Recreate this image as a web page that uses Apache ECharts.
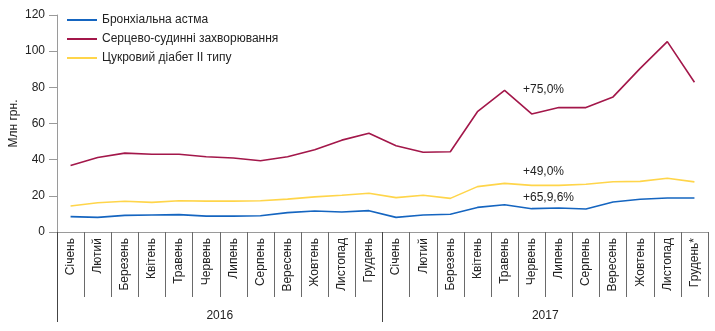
<!DOCTYPE html>
<html>
<head>
<meta charset="utf-8">
<script src="https://cdn.jsdelivr.net/npm/echarts@6/dist/echarts.min.js"></script>
<style>
  html, body { margin: 0; padding: 0; background: #fff; }
  #chart { width: 715px; height: 331px; }
</style>
</head>
<body>
<div id="chart"></div>
<script>
// Monthly sales volumes, mln UAH, 2016–2017
const months = ['Січень', 'Лютий', 'Березень', 'Квітень', 'Травень', 'Червень',
  'Липень', 'Серпень', 'Вересень', 'Жовтень', 'Листопад', 'Грудень'];
const months2017 = months.slice(0, 11).concat(['Грудень*']);
const years = ['2016', '2017'];
const categories = months.concat(months2017);

const seriesNames = ['Бронхіальна астма', 'Серцево-судинні захворювання', 'Цукровий діабет II типу'];

const asthma = [8.5, 8.1, 9.2, 9.4, 9.6, 8.8, 8.8, 9.0, 10.7, 11.6, 11.1, 11.8,
  8.1, 9.4, 9.8, 13.6, 15.1, 12.9, 13.3, 12.7, 16.6, 18.1, 18.8, 18.8];
const cardio = [36.8, 41.2, 43.6, 43.0, 43.0, 41.6, 40.9, 39.4, 41.6, 45.5, 50.8, 54.6,
  47.7, 44.1, 44.4, 66.5, 78.3, 65.3, 68.8, 68.8, 74.7, 90.5, 105.3, 82.8];
const diabetes = [14.4, 16.2, 17.0, 16.4, 17.3, 17.1, 17.1, 17.3, 18.2, 19.4, 20.3, 21.4,
  19.0, 20.3, 18.6, 25.1, 26.9, 25.8, 25.8, 26.4, 27.8, 28.0, 29.7, 27.7];

const yTicks = { min: 0, max: 120, step: 20 };
const changeNotes = ['+75,0%', '+49,0%', '+65,9,6%'];

// Boundary slots for the year row: one slot per month edge (24 months -> 25 edges)
const yearSlots = [];
for (let i = 0; i <= categories.length; i++) {
  const yi = Math.floor(i / 12);
  yearSlots.push(i % 12 === 6 && yi < years.length ? years[yi] : '');
}

const colors = ['#1565c0', '#a3174a', '#ffd54a'];
const textFont = 'Liberation Sans, Arial, sans-serif';
const axisGrey = '#9a9a9a';

const chart = echarts.init(document.getElementById('chart'), null, { renderer: 'canvas' });

chart.setOption({
  animation: false,
  textStyle: { fontFamily: textFont },
  color: colors,
  grid: { left: 57, right: 7, top: 15, bottom: 99, containLabel: false, outerBoundsMode: 'none' },
  legend: {
    orient: 'vertical',
    left: 62,
    top: 9,
    icon: 'rect',
    itemWidth: 30,
    itemHeight: 2,
    itemGap: 7,
    textStyle: { fontSize: 12, color: '#222', fontFamily: textFont },
    data: seriesNames
  },
  xAxis: [
    {
      type: 'category',
      data: categories,
      boundaryGap: true,
      axisLine: { show: true, lineStyle: { color: axisGrey, width: 1 } },
      axisTick: { show: true, interval: 0, length: 65, lineStyle: { color: '#6a6a6a', width: 1 } },
      axisLabel: {
        interval: 0,
        rotate: 90,
        margin: 6,
        fontSize: 12,
        color: '#222',
        fontFamily: textFont
      }
    },
    {
      // year row: separators at the first month of each year, year label centred
      type: 'category',
      data: yearSlots,
      boundaryGap: false,
      position: 'bottom',
      axisLine: { show: false },
      axisTick: {
        show: true,
        length: 90,
        interval: function (i) { return i === 0 || i === 12; },
        lineStyle: { color: '#444', width: 1 }
      },
      axisLabel: {
        interval: function (i, v) { return v !== ''; },
        margin: 78,
        fontSize: 12,
        color: '#222',
        fontFamily: textFont
      }
    }
  ],
  yAxis: {
    type: 'value',
    min: yTicks.min,
    max: yTicks.max,
    interval: yTicks.step,
    name: 'Млн грн.',
    nameLocation: 'middle',
    nameGap: 37,
    nameRotate: 90,
    nameMoveOverlap: false,
    nameTextStyle: { fontSize: 12, color: '#222', fontFamily: textFont },
    axisLine: { show: true, lineStyle: { color: axisGrey, width: 1 } },
    axisTick: { show: true, length: 8, lineStyle: { color: axisGrey } },
    axisLabel: { margin: 12, fontSize: 12, color: '#222', fontFamily: textFont },
    splitLine: { show: false }
  },
  series: [
    { name: seriesNames[0], type: 'line', data: asthma, symbol: 'none', lineStyle: { width: 1.6, color: colors[0] } },
    { name: seriesNames[1], type: 'line', data: cardio, symbol: 'none', lineStyle: { width: 1.6, color: colors[1] } },
    { name: seriesNames[2], type: 'line', data: diabetes, symbol: 'none', lineStyle: { width: 1.6, color: colors[2] } }
  ],
  graphic: [
    { type: 'text', left: 523, top: 84, style: { text: changeNotes[0], fontSize: 12, fill: '#222', fontFamily: textFont } },
    { type: 'text', left: 523, top: 166, style: { text: changeNotes[1], fontSize: 12, fill: '#222', fontFamily: textFont } },
    { type: 'text', left: 523, top: 192, style: { text: changeNotes[2], fontSize: 12, fill: '#222', fontFamily: textFont } }
  ]
});
</script>
</body>
</html>
